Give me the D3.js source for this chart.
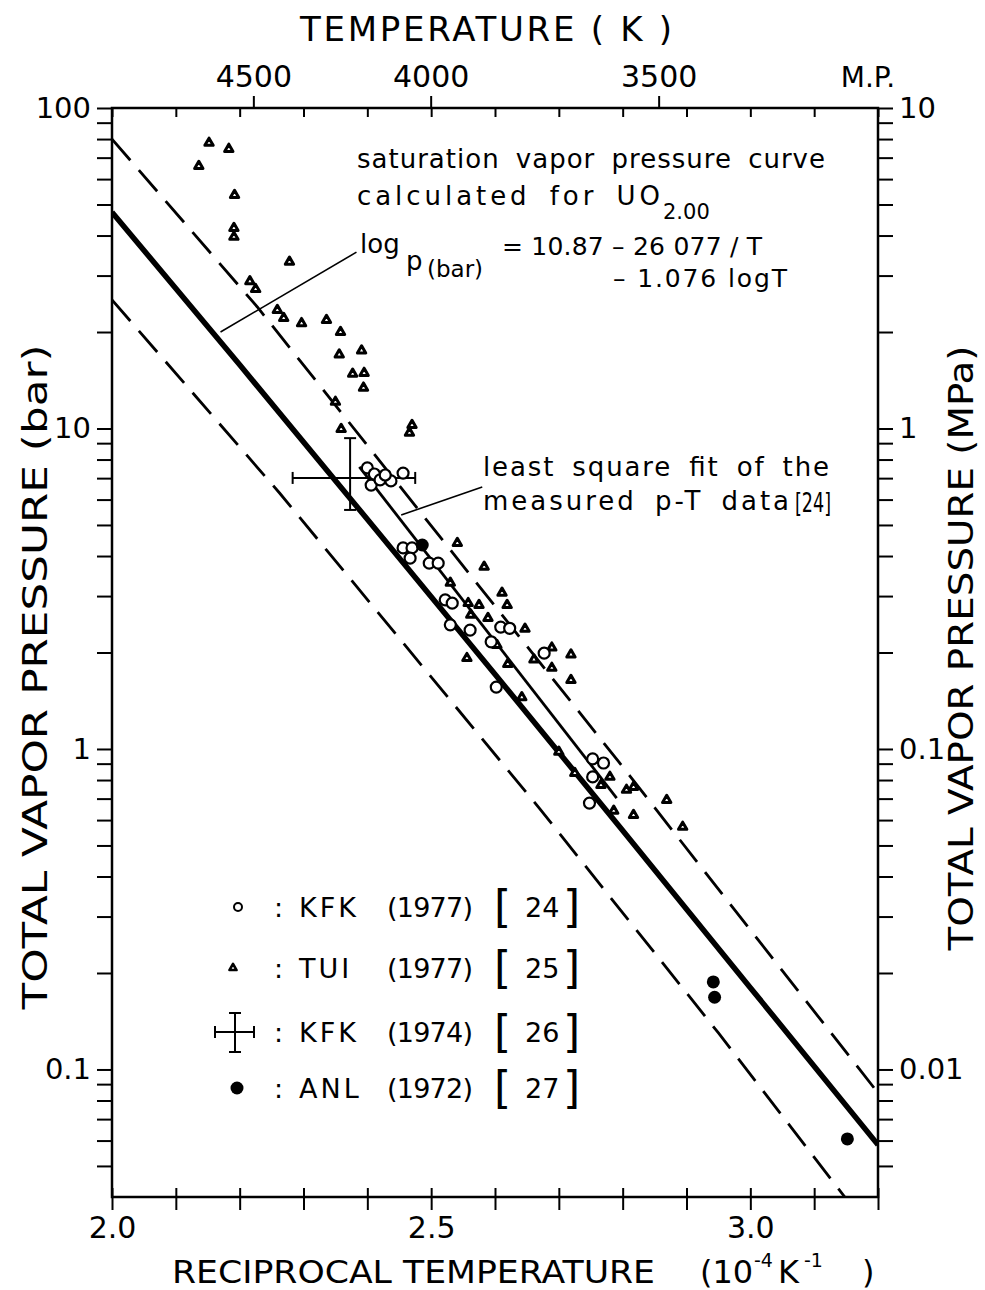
<!DOCTYPE html>
<meta charset="utf-8">
<style>
	body { margin: 0; background: #fff; }
	svg { display: block; font-family: "DejaVu Sans", sans-serif; }
	.frame { fill: none; stroke: #000; stroke-width: 2.5px; }
	.axis path.domain { display: none; }
	.axis .tick line { stroke: #000; stroke-width: 2px; }
	.axis .tick text { font-size: 29px; fill: #000; font-family: "DejaVu Sans", sans-serif; }
	.sat { fill: none; stroke: #000; stroke-width: 5.5px; }
	.fit { fill: none; stroke: #000; stroke-width: 2.8px; }
	.band { fill: none; stroke: #000; stroke-width: 2.8px; stroke-dasharray: 28,13; }
	.leader { stroke: #000; stroke-width: 1.6px; }
	text { fill: #000; }
</style>
<svg width="985" height="1290"></svg>
<script src="https://d3js.org/d3.v7.min.js"></script>
<script>

// reciprocal temperature (10^-4 K^-1) and pressure (bar)
var kfk77 = [
	[2.400, 7.53], [2.411, 7.21], [2.406, 6.66], [2.420, 6.91], [2.437, 6.86], [2.456, 7.26], [2.428, 7.16],
	[2.456, 4.24], [2.470, 4.24], [2.467, 3.94], [2.497, 3.80], [2.511, 3.80], [2.522, 2.92], [2.533, 2.85],
	[2.530, 2.44], [2.561, 2.35], [2.594, 2.16], [2.609, 2.40], [2.623, 2.38], [2.677, 1.99], [2.602, 1.56],
	[2.753, 0.931], [2.770, 0.904], [2.753, 0.818], [2.748, 0.678]
];

var tui77 = [
	[2.152, 77.8], [2.183, 74.5], [2.136, 65.9], [2.192, 53.5], [2.191, 42.2], [2.191, 39.6],
	[2.278, 33.1], [2.216, 28.8], [2.225, 27.2], [2.259, 23.4], [2.269, 22.1], [2.297, 21.3],
	[2.336, 21.8], [2.358, 20.0], [2.356, 17.0], [2.391, 17.5], [2.377, 14.8], [2.395, 14.9],
	[2.394, 13.4], [2.350, 12.1], [2.359, 9.96], [2.470, 10.25], [2.466, 9.7],
	[2.541, 4.39], [2.583, 3.70], [2.530, 3.30], [2.558, 2.85], [2.562, 2.62], [2.575, 2.81],
	[2.589, 2.56], [2.611, 3.07], [2.619, 2.81], [2.647, 2.37], [2.603, 2.11], [2.556, 1.92],
	[2.620, 1.84], [2.661, 1.90], [2.689, 2.07], [2.689, 1.79], [2.719, 1.97], [2.719, 1.64],
	[2.642, 1.45], [2.700, 0.979], [2.725, 0.841], [2.780, 0.818], [2.766, 0.772], [2.806, 0.745],
	[2.817, 0.761], [2.786, 0.641], [2.817, 0.622], [2.869, 0.693], [2.894, 0.571]
];

var anl72 = [[2.486, 4.33], [2.942, 0.1875], [2.944, 0.168], [3.152, 0.0607]];

var kfk74 = [2.373, 7.01];
var kfk74RecipRange = [2.283, 2.475];
var kfk74PRange = [5.57, 9.33];

// saturation curve log p = 10.87 - 26077/T - 1.076 log T
var satRecip = [2.0, 2.2, 2.4, 2.6, 2.8, 3.0, 3.2];
var satP = [47.3, 15.8, 5.21, 1.71, 0.557, 0.180, 0.0582];

var fitRecip = [2.3875, 2.7906];
var fitP = [7.59, 0.703];

var upperRecip = [2.0, 2.228, 2.794, 3.2];
var upperP = [80, 23.9, 0.911, 0.0845];
var lowerRecip = [2.0, 2.2625, 2.669, 2.95, 3.148];
var lowerP = [25.2, 6.29, 0.655, 0.130, 0.04];

// annotation leader lines (data coordinates)
var satLeader = [[2.383, 35.5], [2.170, 20.0]];
var fitLeader = [[2.580, 6.57], [2.453, 5.37]];

// ticks
var xTicks = [2.0, 2.1, 2.2, 2.3, 2.4, 2.5, 2.6, 2.7, 2.8, 2.9, 3.0, 3.1, 3.2];
var xLabelTicks = [2.0, 2.5, 3.0];
var xLabelText = ["2.0", "2.5", "3.0"];
var tempTicks = [4500, 4000, 3500];
var tempText = ["4500", "4000", "3500"];
var meltingRecip = 3.2;
var decadesBar = [0.01, 0.1, 1, 10];
var decadesMPa = [0.001, 0.01, 0.1, 1];
var multipliers = [1, 2, 3, 4, 5, 6, 7, 8, 9];
var barLabelTicks = [0.1, 1, 10, 100];
var barLabelText = ["0.1", "1", "10", "100"];
var mpaLabelTicks = [0.01, 0.1, 1, 10];
var mpaLabelText = ["0.01", "0.1", "1", "10"];

var legendNames = ["KFK", "TUI", "KFK", "ANL"];
var legendYears = ["(1977)", "(1977)", "(1974)", "(1972)"];
var legendRefs = ["24", "25", "26", "27"];

var svg = d3.select("svg");

var x = d3.scaleLinear().domain([2.0, 3.2]).range([112, 878]),
	y = d3.scaleLog().domain([0.04, 100]).range([1197, 108]),
	yMPa = d3.scaleLog().domain([0.004, 10]).range([1197, 108]);

function buildTicks(decades, dom) {
	var out = [];
	decades.forEach(function(dec) {
		multipliers.forEach(function(m) {
			var v = +(dec * m).toPrecision(3);
			if (v >= dom[0] * 0.999 && v <= dom[1] * 1.001) out.push(v);
		});
	});
	out.push(dom[1]);
	return out;
}
var barTicks = buildTicks(decadesBar, [0.05, 100]);
var mpaTicks = buildTicks(decadesMPa, [0.005, 10]);

svg.append("defs").append("clipPath").attr("id", "plot")
	.append("rect").attr("x", 112).attr("y", 108).attr("width", 766).attr("height", 1089);

// axes
svg.append("g").attr("class", "axis")
	.attr("transform", "translate(0,1197)")
	.call(d3.axisBottom(x).tickValues(xTicks).tickSize(13).tickPadding(7)
		.tickFormat(function(d) { var i = xLabelTicks.indexOf(d); return i < 0 ? "" : xLabelText[i]; }))
	.selectAll("text").style("font-size", "30px");

svg.append("g").attr("class", "axis")
	.attr("transform", "translate(0,1197)")
	.call(d3.axisTop(x).tickValues(xTicks).tickSize(9).tickFormat(""));

svg.append("g").attr("class", "axis")
	.attr("transform", "translate(0,108)")
	.call(d3.axisBottom(x).tickValues(xTicks).tickSize(9).tickFormat(""));

svg.append("g").attr("class", "axis")
	.attr("transform", "translate(112,0)")
	.call(d3.axisLeft(y).tickValues(barTicks).tickSize(15).tickPadding(6)
		.tickFormat(function(d) { var i = barLabelTicks.indexOf(d); return i < 0 ? "" : barLabelText[i]; }));

svg.append("g").attr("class", "axis")
	.attr("transform", "translate(878,0)")
	.call(d3.axisRight(yMPa).tickValues(mpaTicks).tickSize(15).tickPadding(6)
		.tickFormat(function(d) { var i = mpaLabelTicks.indexOf(d); return i < 0 ? "" : mpaLabelText[i]; }));

// top temperature scale
var tempAxis = svg.append("g");
tempAxis.selectAll("line").data(tempTicks).enter().append("line")
	.attr("x1", function(d) { return x(1e4 / d); })
	.attr("x2", function(d) { return x(1e4 / d); })
	.attr("y1", 108).attr("y2", 96)
	.attr("stroke", "#000").attr("stroke-width", 2);
tempAxis.selectAll("text").data(tempTicks).enter().append("text")
	.attr("x", function(d) { return x(1e4 / d); })
	.attr("y", 87)
	.attr("text-anchor", "middle")
	.style("font-size", "30px")
	.text(function(d, i) { return tempText[i]; });
tempAxis.append("text")
	.attr("x", x(meltingRecip) - 10).attr("y", 87)
	.attr("text-anchor", "middle")
	.style("font-size", "28px")
	.text("M.P.");

svg.append("rect").attr("class", "frame")
	.attr("x", 112).attr("y", 108).attr("width", 766).attr("height", 1089);

// axis titles
svg.append("text")
	.attr("x", 300).attr("y", 41)
	.attr("textLength", 372).attr("lengthAdjust", "spacing")
	.style("font-size", "34px")
	.text("TEMPERATURE ( K )");

var xt = svg.append("g").style("font-size", "32px");
xt.append("text").attr("x", 172).attr("y", 1283)
	.attr("textLength", 483).attr("lengthAdjust", "spacingAndGlyphs")
	.text("RECIPROCAL TEMPERATURE");
xt.append("text").attr("x", 700).attr("y", 1283).text("(10");
xt.append("text").attr("x", 754).attr("y", 1267).style("font-size", "19px").text("-4");
xt.append("text").attr("x", 778).attr("y", 1283).text("K");
xt.append("text").attr("x", 804).attr("y", 1267).style("font-size", "19px").text("-1");
xt.append("text").attr("x", 862).attr("y", 1283).text(")");

svg.append("text")
	.attr("transform", "translate(47,677) rotate(-90)")
	.attr("text-anchor", "middle")
	.attr("textLength", 665).attr("lengthAdjust", "spacingAndGlyphs")
	.style("font-size", "34px")
	.text("TOTAL VAPOR PRESSURE (bar)");

svg.append("text")
	.attr("transform", "translate(973,648) rotate(-90)")
	.attr("text-anchor", "middle")
	.attr("textLength", 605).attr("lengthAdjust", "spacingAndGlyphs")
	.style("font-size", "34px")
	.text("TOTAL VAPOR PRESSURE (MPa)");

// curves
var line = d3.line()
	.x(function(d) { return x(d[0]); })
	.y(function(d) { return y(d[1]); });

var curves = svg.append("g").attr("clip-path", "url(#plot)");
curves.append("path").attr("class", "band").attr("d", line(d3.zip(upperRecip, upperP)));
curves.append("path").attr("class", "band").attr("d", line(d3.zip(lowerRecip, lowerP)));
curves.append("path").attr("class", "sat").attr("d", line(d3.zip(satRecip, satP)));
curves.append("path").attr("class", "fit").attr("d", line(d3.zip(fitRecip, fitP)));

svg.append("line").attr("class", "leader")
	.attr("x1", x(satLeader[0][0])).attr("y1", y(satLeader[0][1]))
	.attr("x2", x(satLeader[1][0])).attr("y2", y(satLeader[1][1]));
svg.append("line").attr("class", "leader")
	.attr("x1", x(fitLeader[0][0])).attr("y1", y(fitLeader[0][1]))
	.attr("x2", x(fitLeader[1][0])).attr("y2", y(fitLeader[1][1]));

// markers
var tri = d3.symbol().type(d3.symbolTriangle).size(30);

function drawCross(g, cx, cy, x0, x1, y0, y1) {
	g.append("line").attr("x1", x0).attr("x2", x1).attr("y1", cy).attr("y2", cy);
	g.append("line").attr("x1", cx).attr("x2", cx).attr("y1", y0).attr("y2", y1);
	g.append("line").attr("x1", x0).attr("x2", x0).attr("y1", cy - 6).attr("y2", cy + 6);
	g.append("line").attr("x1", x1).attr("x2", x1).attr("y1", cy - 6).attr("y2", cy + 6);
	g.append("line").attr("x1", cx - 6).attr("x2", cx + 6).attr("y1", y0).attr("y2", y0);
	g.append("line").attr("x1", cx - 6).attr("x2", cx + 6).attr("y1", y1).attr("y2", y1);
	g.selectAll("line").attr("stroke", "#000").attr("stroke-width", 2);
}

var marks = svg.append("g");

drawCross(marks.append("g"), x(kfk74[0]), y(kfk74[1]),
	x(kfk74RecipRange[0]), x(kfk74RecipRange[1]), y(kfk74PRange[1]), y(kfk74PRange[0]));

marks.selectAll(".tui").data(tui77).enter().append("path")
	.attr("class", "tui")
	.attr("transform", function(d) { return "translate(" + x(d[0]) + "," + y(d[1]) + ")"; })
	.attr("d", tri)
	.attr("fill", "#fff").attr("stroke", "#000").attr("stroke-width", 3)
	.attr("stroke-linejoin", "round");

marks.selectAll(".kfk").data(kfk77).enter().append("circle")
	.attr("class", "kfk")
	.attr("cx", function(d) { return x(d[0]); })
	.attr("cy", function(d) { return y(d[1]); })
	.attr("r", 5.5)
	.attr("fill", "#fff").attr("stroke", "#000").attr("stroke-width", 2.2);

marks.selectAll(".anl").data(anl72).enter().append("circle")
	.attr("class", "anl")
	.attr("cx", function(d) { return x(d[0]); })
	.attr("cy", function(d) { return y(d[1]); })
	.attr("r", 6.5)
	.attr("fill", "#000");

// annotations
var note = svg.append("g").style("font-size", "26px");
note.append("text").attr("x", 357).attr("y", 168)
	.style("word-spacing", "7px")
	.attr("textLength", 468).attr("lengthAdjust", "spacing")
	.text("saturation vapor pressure curve");
note.append("text").attr("x", 357).attr("y", 205)
	.style("word-spacing", "7px")
	.attr("textLength", 303).attr("lengthAdjust", "spacing")
	.text("calculated for UO");
note.append("text").attr("x", 663).attr("y", 219).style("font-size", "21px").text("2.00");
note.append("text").attr("x", 360).attr("y", 253).text("log");
note.append("text").attr("x", 406).attr("y", 270).text("p");
note.append("text").attr("x", 427).attr("y", 277).style("font-size", "23px").text("(bar)");
note.append("text").attr("x", 502).attr("y", 255)
	.style("font-size", "25px")
	.attr("textLength", 260).attr("lengthAdjust", "spacing")
	.text("= 10.87 – 26 077 / T");
note.append("text").attr("x", 613).attr("y", 287)
	.style("font-size", "25px")
	.attr("textLength", 174).attr("lengthAdjust", "spacing")
	.text("– 1.076 logT");
note.append("text").attr("x", 483).attr("y", 476)
	.style("word-spacing", "7px")
	.attr("textLength", 346).attr("lengthAdjust", "spacing")
	.text("least square fit of the");
note.append("text").attr("x", 483).attr("y", 510)
	.style("word-spacing", "7px")
	.attr("textLength", 306).attr("lengthAdjust", "spacing")
	.text("measured p-T data");
note.append("text").attr("x", 795).attr("y", 512)
	.attr("textLength", 36).attr("lengthAdjust", "spacingAndGlyphs")
	.text("[24]");

// legend
var legendY = [907, 968, 1032, 1088];
var legend = svg.append("g").style("font-size", "27px");
legend.selectAll(".name").data(legendNames).enter().append("text")
	.attr("x", 299).attr("y", function(d, i) { return legendY[i] + 10; })
	.attr("letter-spacing", 3)
	.text(function(d) { return d; });
legend.selectAll(".colon").data(legendNames).enter().append("text")
	.attr("x", 274).attr("y", function(d, i) { return legendY[i] + 10; })
	.text(":");
legend.selectAll(".year").data(legendYears).enter().append("text")
	.attr("x", 387).attr("y", function(d, i) { return legendY[i] + 10; })
	.attr("textLength", 86).attr("lengthAdjust", "spacing")
	.text(function(d) { return d; });
legend.selectAll(".lb").data(legendRefs).enter().append("text")
	.attr("x", 494).attr("y", function(d, i) { return legendY[i] + 15; })
	.style("font-size", "44px")
	.text("[");
legend.selectAll(".ref").data(legendRefs).enter().append("text")
	.attr("x", 525).attr("y", function(d, i) { return legendY[i] + 10; })
	.text(function(d) { return d; });
legend.selectAll(".rb").data(legendRefs).enter().append("text")
	.attr("x", 563).attr("y", function(d, i) { return legendY[i] + 15; })
	.style("font-size", "44px")
	.text("]");

legend.append("circle").attr("cx", 238).attr("cy", legendY[0]).attr("r", 4)
	.attr("fill", "#fff").attr("stroke", "#000").attr("stroke-width", 2);
legend.append("path").attr("transform", "translate(233," + legendY[1] + ")")
	.attr("d", d3.symbol().type(d3.symbolTriangle).size(22))
	.attr("fill", "#fff").attr("stroke", "#000").attr("stroke-width", 2.6)
	.attr("stroke-linejoin", "round");
drawCross(legend.append("g"), 235, legendY[2], 215, 254, legendY[2] - 19, legendY[2] + 20);
legend.append("circle").attr("cx", 237).attr("cy", legendY[3]).attr("r", 6.5).attr("fill", "#000");

</script>
